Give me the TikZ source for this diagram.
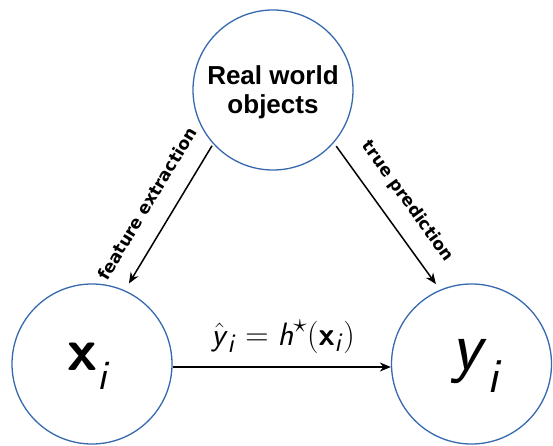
\documentclass[tikz,border=0pt]{standalone}
\usepackage{amsmath}
\usepackage[no-math]{fontspec}
\setmainfont{Liberation Sans}
\newfontfamily\labelfont{DejaVu Sans}
\usetikzlibrary{arrows.meta}
\definecolor{circblue}{RGB}{55,105,175}
\newcommand\myit[1]{\textsf{\itshape #1}}
\newcommand\mybf[1]{\textsf{\bfseries #1}}
\begin{document}
\begin{tikzpicture}[x=1pt,y=-1pt,
  circ/.style={circle, draw=circblue, line width=1.3pt, minimum size=160pt, inner sep=0pt},
  arr/.style={-{Stealth[length=11pt,width=9pt]}, line width=1.5pt},
  lbl/.style={font=\labelfont\bfseries\fontsize{17}{20}\selectfont, sloped, midway}]
\useasboundingbox (0,0) rectangle (553,446);
\node[circ] (obj) at (273,90) {};
\node[align=center, font=\bfseries\fontsize{26}{29}\selectfont] (objtext) at (273,92) {Real world\\objects};
\node[circ] (xi) at (92,364) {};
\node[font=\fontsize{60}{60}\selectfont] (xitext) at (89,366) {$\text{\mybf{x}}_{\text{\myit{i}}}$};
\node[circ] (yi) at (471.5,364) {};
\node[font=\fontsize{70}{70}\selectfont] (yitext) at (477,366) {$\text{\myit{y}}_{\text{\myit{i}}}$};
\draw[arr, shorten <=2pt, shorten >=8pt] (obj.222) -- node[lbl, above=15pt] {feature extraction} (xi.66);
\draw[arr, shorten <=4pt, shorten >=7pt] (obj.319) -- node[lbl, above=13pt] {true prediction} (yi.113);
\draw[arr] ([yshift=-3pt]xi.east) -- ([yshift=-3pt]yi.west);
\node[anchor=base] (eq) at (283,345) {\scalebox{1.3}{\Huge$\hat{\text{\myit{y}}}_{\text{\myit{i}}} = \text{\myit{h}}^{\star}(\text{\mybf{x}}_{\text{\myit{i}}})$}};
\end{tikzpicture}
\end{document}
